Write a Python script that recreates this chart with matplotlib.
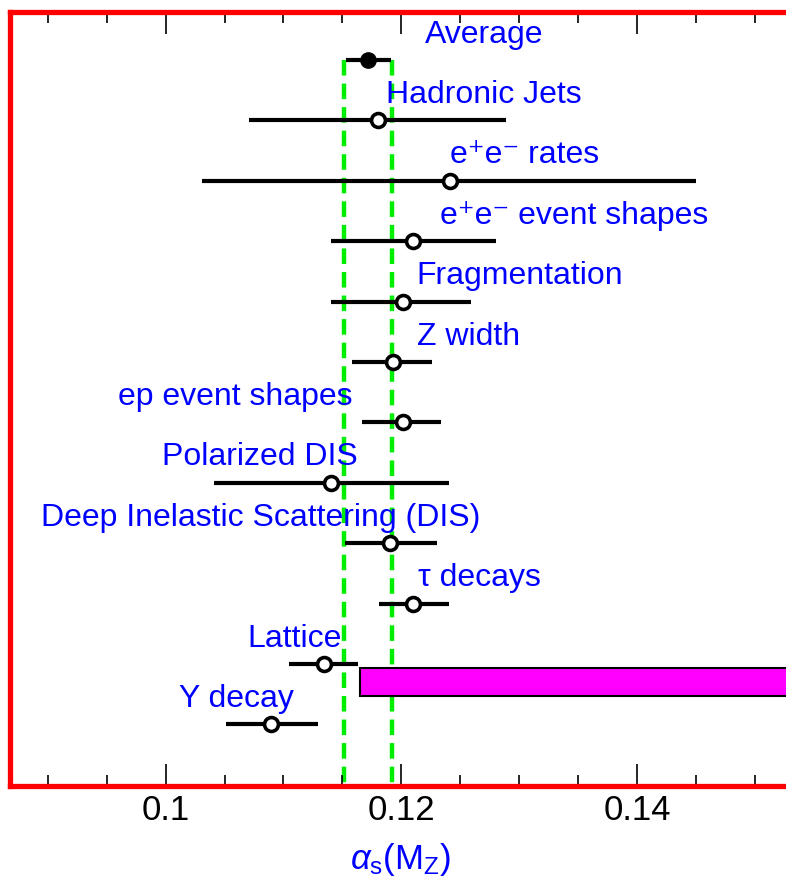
import matplotlib
matplotlib.use("Agg")
import matplotlib.pyplot as plt
from matplotlib.ticker import MultipleLocator

plt.rcParams['font.family'] = ['Liberation Sans', 'DejaVu Sans']
plt.rcParams['mathtext.fontset'] = 'custom'
plt.rcParams['mathtext.rm'] = 'Liberation Sans'
plt.rcParams['mathtext.it'] = 'Liberation Sans:italic'

# ---- data ----
labels = ["Average", "Hadronic Jets", "e⁺e⁻ rates",
          "e⁺e⁻ event shapes", "Fragmentation", "Z width",
          "ep event shapes", "Polarized DIS", "Deep Inelastic Scattering (DIS)",
          "τ decays", "Lattice", "Υ decay"]
values = [0.1172, 0.1180, 0.1241, 0.1210, 0.1201, 0.1193,
          0.1201, 0.1140, 0.1190, 0.1210, 0.1134, 0.1089]
err_lo = [0.1153, 0.1071, 0.1031, 0.1140, 0.1140, 0.1158,
          0.1167, 0.1041, 0.1152, 0.1181, 0.1105, 0.1051]
err_hi = [0.1191, 0.1289, 0.1450, 0.1280, 0.1259, 0.1226,
          0.1234, 0.1240, 0.1230, 0.1240, 0.1163, 0.1129]
label_x = [0.1220, 0.1187, 0.1241, 0.1233, 0.1213, 0.1213,
           0.0960, 0.0997, 0.0894, 0.1214, 0.1069, 0.1011]
band = [0.1151, 0.1192]          # green dashed band (average range)
bar_start = 0.1165               # magenta bar start
bar_end = 0.16
bar_row = 10.3

fig = plt.figure(figsize=(7.86, 8.81), dpi=100)
ax = fig.add_axes([10/786, 1-786/881, 778/786, (786-12)/881])

n = len(labels)
rows = list(range(n))

# green band lines
for b in band:
    ax.plot([b, b], [0, 12.5], color='#00ee00', lw=3.2, ls=(0, (3.5, 1.8)), zorder=1)

# magenta bar
ax.barh([bar_row], [bar_end - bar_start], left=bar_start, height=0.46,
        color='#ff00ff', edgecolor='black', linewidth=1.5, zorder=2)

# error bars + markers
for i in rows:
    ax.plot([err_lo[i], err_hi[i]], [i, i], color='black', lw=3, zorder=3,
            solid_capstyle='butt')
    if i == 0:
        ax.plot(values[i], i, 'o', ms=11, mfc='black', mec='black', zorder=4)
    else:
        ax.plot(values[i], i, 'o', ms=10, mfc='white', mec='black', mew=2.6, zorder=4)
    ax.text(label_x[i], i - 0.42, labels[i], color='blue', fontsize=23,
            ha='left', va='center', zorder=5)

ax.set_xlim(0.0868, 0.1528)
ax.set_ylim(12.02, -0.795)

ax.xaxis.set_major_locator(MultipleLocator(0.02))
ax.xaxis.set_minor_locator(MultipleLocator(0.005))
ax.xaxis.set_major_formatter(plt.FuncFormatter(lambda v, p: f"{v:g}"))
ax.tick_params(axis='x', which='major', direction='in', length=16, width=1.2,
               top=True, bottom=True, labelsize=25, pad=6)
ax.tick_params(axis='x', which='minor', direction='in', length=8, width=1.2,
               top=True, bottom=True)
ax.set_yticks([])

for s in ax.spines.values():
    s.set_color('red')
    s.set_linewidth(3.8)

fig.text(401/786, 1 - 860/881, r"$\alpha_{\rm s}$(M$_{\rm Z}$)", color='blue',
         fontsize=25, ha='center', va='center')

fig.savefig("out.png", dpi=100)
